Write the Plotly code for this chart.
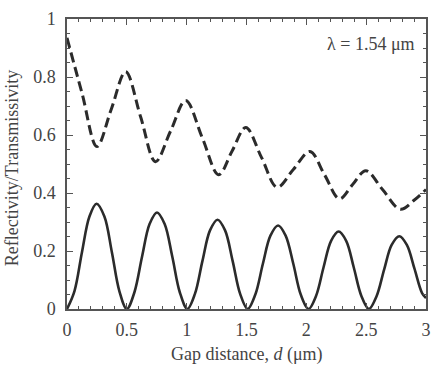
import plotly.graph_objects as go

# Reflectivity (solid)
refl_x = [0, 0.0625, 0.125, 0.1875, 0.247, 0.3125, 0.375, 0.4375, 0.500,
          0.563, 0.627, 0.690, 0.752, 0.816, 0.880, 0.943, 1.006,
          1.069, 1.132, 1.195, 1.258, 1.321, 1.384, 1.447, 1.510,
          1.573, 1.637, 1.700, 1.764, 1.827, 1.891, 1.954, 2.018,
          2.081, 2.144, 2.207, 2.270, 2.333, 2.396, 2.460, 2.523,
          2.586, 2.650, 2.713, 2.777, 2.840, 2.903, 2.967, 3.0]
refl_y = [0, 0.062, 0.196, 0.319, 0.363, 0.319, 0.196, 0.062, 0,
          0.057, 0.180, 0.293, 0.333, 0.293, 0.180, 0.057, 0,
          0.052, 0.166, 0.271, 0.308, 0.271, 0.166, 0.052, 0,
          0.049, 0.156, 0.253, 0.288, 0.253, 0.156, 0.049, 0,
          0.045, 0.144, 0.235, 0.267, 0.235, 0.144, 0.045, 0,
          0.043, 0.136, 0.221, 0.251, 0.221, 0.140, 0.055, 0.038]

# Transmissivity (dashed)
trans_x = [0, 0.125, 0.25, 0.37, 0.49, 0.615, 0.739, 0.866, 0.992, 1.13,
           1.267, 1.38, 1.494, 1.625, 1.756, 1.893, 2.03, 2.153, 2.277,
           2.387, 2.497, 2.64, 2.786, 2.9, 3.0]
trans_y = [0.935, 0.745, 0.560, 0.689, 0.818, 0.663, 0.508, 0.614, 0.719, 0.591,
           0.463, 0.545, 0.626, 0.523, 0.420, 0.482, 0.543, 0.462, 0.380,
           0.429, 0.477, 0.410, 0.344, 0.375, 0.412]

x_ticks = [0, 0.5, 1, 1.5, 2, 2.5, 3]
x_labels = ["0", "0.5", "1", "1.5", "2", "2.5", "3"]
y_ticks = [0, 0.2, 0.4, 0.6, 0.8, 1]
y_labels = ["0", "0.2", "0.4", "0.6", "0.8", "1"]

ink = "#2b2b2b"
axc = "#555555"
txt = "#444444"
font = "'Liberation Serif', 'Times New Roman', serif"
fs = 18

fig = go.Figure()
fig.add_trace(go.Scatter(x=trans_x, y=trans_y, mode="lines",
                         line=dict(color=ink, width=3, dash="10px,5px", shape="spline", smoothing=1.0),
                         showlegend=False, hoverinfo="skip"))
fig.add_trace(go.Scatter(x=refl_x, y=refl_y, mode="lines",
                         line=dict(color=ink, width=2.6, shape="spline", smoothing=1.0),
                         showlegend=False, hoverinfo="skip"))

common = dict(showgrid=False, zeroline=False, showline=True, linecolor=axc, linewidth=1.5,
              mirror="allticks", ticks="inside", ticklen=6, tickwidth=1.2, tickcolor=axc,
              tickfont=dict(family=font, size=fs, color=txt))
fig.update_xaxes(range=[0, 3], tickvals=x_ticks, ticktext=x_labels,
                 minor=dict(ticks="inside", ticklen=3, tickwidth=1, tickcolor=axc, dtick=0.1, tick0=0),
                 ticklabelstandoff=4, **common)
fig.update_yaxes(range=[0, 1], tickvals=y_ticks, ticktext=y_labels,
                 minor=dict(ticks="inside", ticklen=3, tickwidth=1, tickcolor=axc, dtick=0.05, tick0=0),
                 ticklabelstandoff=6, **common)

fig.add_annotation(text="λ = 1.54 μm", x=0.975, y=0.913, xref="paper", yref="paper",
                   xanchor="right", yanchor="middle", showarrow=False,
                   font=dict(family=font, size=fs, color=txt))
fig.add_annotation(text="Gap distance, <i>d</i> (μm)", x=0.5, y=-0.158, xref="paper", yref="paper",
                   xanchor="center", yanchor="middle", showarrow=False,
                   font=dict(family=font, size=fs, color=txt))
fig.add_annotation(text="Reflectivity/Transmissivity", x=-0.151, y=0.485, xref="paper", yref="paper",
                   xanchor="center", yanchor="middle", textangle=-90, showarrow=False,
                   font=dict(family=font, size=fs, color=txt))

fig.update_layout(width=440, height=366, margin=dict(l=67, r=9, t=16, b=57),
                  paper_bgcolor="white", plot_bgcolor="white",
                  font=dict(family=font))
fig.write_html("out.html")
